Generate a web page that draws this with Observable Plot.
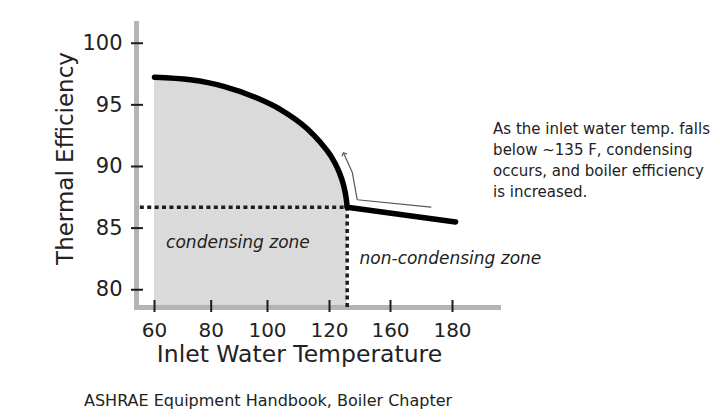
<!DOCTYPE html>
<html><head><meta charset="utf-8">
<script src="https://cdn.jsdelivr.net/npm/d3@7"></script>
<script src="https://cdn.jsdelivr.net/npm/@observablehq/plot@0.6"></script>
<style>
body{margin:0;background:#fff;font-family:"DejaVu Sans",sans-serif;}
svg{display:block;}
#caption{font-size:16px;color:#222;padding-left:84px;line-height:22px;}
</style></head><body>
<div id="chart"></div>
<div id="caption">ASHRAE Equipment Handbook, Boiler Chapter</div>
<script>
// tick labels
const xTicks = [60, 80, 100, 120, 160, 180];
const yTicks = [80, 85, 90, 95, 100];
// condensing branch (inlet water temperature, thermal efficiency)
const condTemp = [60, 72.7, 84.4, 96.5, 104.2, 112.9, 117.1, 120.7, 125.9, 129.2, 131.0, 131.6];
const condEff  = [97.24, 97.03, 96.50, 95.53, 94.62, 93.04, 91.94, 90.89, 89.67, 88.49, 87.36, 86.7];
// non-condensing branch
const nonCondTemp = [131.6, 181];
const nonCondEff  = [86.7, 85.5];
// thin annotation arrow
const arrowTemp = [173, 138.2, 137.1, 134.9, 129.4];
const arrowEff  = [86.7, 87.3, 88.05, 89.54, 91.03];
// threshold (dotted guides)
const thresholdTemp = 131.6;
const thresholdEff = 86.7;
const guideStartTemp = 55;

const xPixel = [154, 210.7, 267, 329, 390, 452];
const yDomain = [78.56, 101.6];

const cond = condTemp.map((t, i) => ({t, e: condEff[i]}));
const nonCond = nonCondTemp.map((t, i) => ({t, e: nonCondEff[i]}));
const arrow = arrowTemp.map((t, i) => ({t, e: arrowEff[i]}));

const ink = "#1c1c1c";
const chart = Plot.plot({
  width: 720,
  height: 390,
  marginLeft: 136,
  marginRight: 222,
  marginTop: 23,
  marginBottom: 83,
  style: {fontFamily: "DejaVu Sans, sans-serif", color: "#222", background: "#fff"},
  x: {type: "linear", domain: xTicks, range: xPixel},
  y: {domain: yDomain},
  marks: [
    Plot.areaY(cond, {x: "t", y1: yDomain[0], y2: "e", fill: "#dadada", curve: "monotone-x"}),
    Plot.frame({anchor: "left", stroke: "#b4b4b4", strokeWidth: 5, strokeLinecap: "square"}),
    Plot.frame({anchor: "bottom", stroke: "#b4b4b4", strokeWidth: 5, strokeLinecap: "square"}),
    Plot.axisY({ticks: yTicks, tickSize: 12, dx: 7, tickPadding: 9, fontSize: 21, strokeWidth: 2, stroke: ink, label: null}),
    Plot.axisX({ticks: xTicks, tickSize: 12, dy: -7, tickPadding: 10, fontSize: 20, strokeWidth: 2, stroke: ink, label: null}),
    Plot.ruleY([thresholdEff], {x1: guideStartTemp, x2: thresholdTemp, stroke: ink, strokeWidth: 3.5, strokeDasharray: "4,3.4"}),
    Plot.ruleX([thresholdTemp], {y1: yDomain[0], y2: thresholdEff, stroke: ink, strokeWidth: 3.5, strokeDasharray: "4,3.4"}),
    Plot.line(cond, {x: "t", y: "e", stroke: "#000", strokeWidth: 5.5, strokeLinecap: "round", curve: "monotone-x"}),
    Plot.line(nonCond, {x: "t", y: "e", stroke: "#000", strokeWidth: 5.5, strokeLinecap: "round"}),
    Plot.line(arrow, {x: "t", y: "e", stroke: "#555", strokeWidth: 1.2, markerEnd: "arrow"}),
    Plot.text(["condensing zone"], {x: 64.1, y: 83.35, textAnchor: "start", lineAnchor: "bottom", fontStyle: "italic", fontSize: 17, fill: "#222"}),
    Plot.text(["non-condensing zone"], {x: 139.7, y: 82.1, textAnchor: "start", lineAnchor: "bottom", fontStyle: "italic", fontSize: 17, fill: "#222"}),
    Plot.text(["As the inlet water temp. falls\nbelow ~135 F, condensing\noccurs, and boiler efficiency\nis increased."], {x: 193.1, y: 93.84, textAnchor: "start", lineAnchor: "top", fontSize: 15, lineHeight: 1.4, fill: "#222"}),
    Plot.text(["Thermal Efficiency"], {frameAnchor: "left", rotate: -90, textAnchor: "middle", lineAnchor: "bottom", dx: -64, dy: -7, fontSize: 23, fill: "#222"}),
    Plot.text(["Inlet Water Temperature"], {frameAnchor: "bottom", textAnchor: "middle", lineAnchor: "bottom", dx: -18, dy: 54.7, fontSize: 23.5, fill: "#222"})
  ]
});
document.getElementById("chart").append(chart);
</script>
</body></html>
